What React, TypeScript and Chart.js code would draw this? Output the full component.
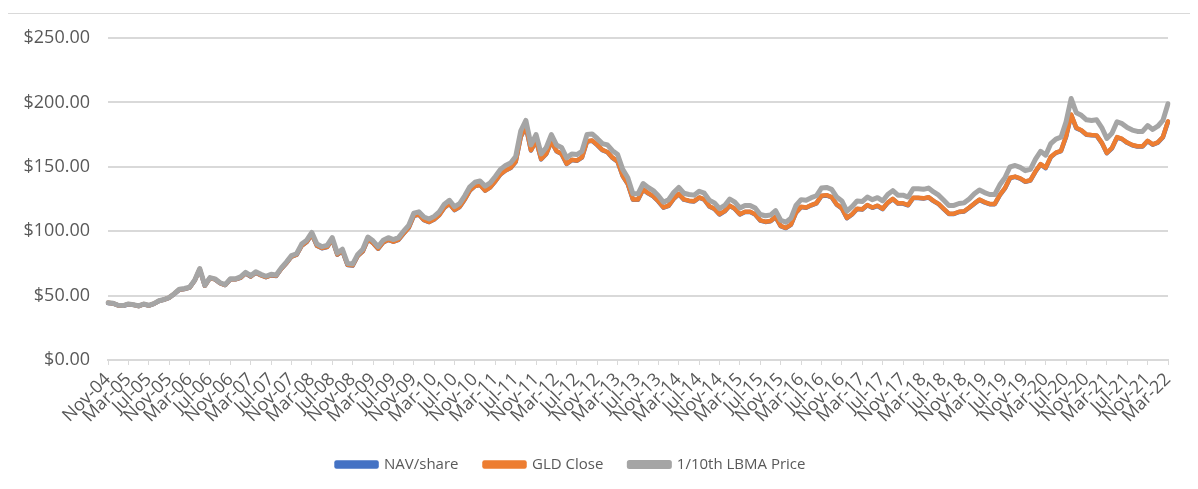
import React, { useEffect, useRef } from "react";
import { Chart, registerables } from "chart.js";

Chart.register(...registerables);

const MONTH_NAMES = ["Jan", "Feb", "Mar", "Apr", "May", "Jun", "Jul", "Aug", "Sep", "Oct", "Nov", "Dec"];

// x-axis tick labels (every 4th month)
const tickLabels = [
  "Nov-04", "Mar-05", "Jul-05", "Nov-05", "Mar-06", "Jul-06", "Nov-06", "Mar-07", "Jul-07", "Nov-07",
  "Mar-08", "Jul-08", "Nov-08", "Mar-09", "Jul-09", "Nov-09", "Mar-10", "Jul-10", "Nov-10", "Mar-11",
  "Jul-11", "Nov-11", "Mar-12", "Jul-12", "Nov-12", "Mar-13", "Jul-13", "Nov-13", "Mar-14", "Jul-14",
  "Nov-14", "Mar-15", "Jul-15", "Nov-15", "Mar-16", "Jul-16", "Nov-16", "Mar-17", "Jul-17", "Nov-17",
  "Mar-18", "Jul-18", "Nov-18", "Mar-19", "Jul-19", "Nov-19", "Mar-20", "Jul-20", "Nov-20", "Mar-21",
  "Jul-21", "Nov-21", "Mar-22",
];

// monthly values, Nov-04 .. Mar-22
const lbmaTenth = [
  44.5, 44.0,
  42.5, 42.3, 43.5, 42.9, 42.0, 43.5, 42.4, 43.8, 46.0, 47.0, 48.5, 51.5,
  55.0, 55.5, 56.5, 62.0, 71.0, 58.0, 64.0, 63.0, 60.0, 58.5, 63.0, 63.0,
  64.5, 68.0, 65.5, 68.5, 66.5, 65.0, 66.5, 66.0, 71.5, 76.0, 81.0, 82.5,
  90.0, 93.0, 99.0, 90.0, 88.0, 89.0, 95.0, 83.0, 86.0, 75.0, 74.5, 82.0,
  86.0, 95.5, 92.5, 88.0, 93.0, 95.0, 93.5, 95.0, 100.0, 104.5, 114.0, 115.0,
  111.0, 109.5, 111.5, 115.0, 121.0, 124.0, 119.0, 121.5, 127.5, 134.5, 138.0, 139.0,
  135.0, 137.5, 142.5, 148.0, 151.0, 153.0, 158.0, 178.0, 186.0, 167.0, 175.0, 160.0,
  165.0, 175.0, 167.0, 165.0, 157.0, 160.0, 159.5, 162.0, 175.0, 175.5, 172.0, 168.0,
  167.0, 162.5, 159.5, 148.0, 141.5, 129.0, 129.0, 137.0, 134.0, 131.5, 127.5, 122.5,
  124.5, 130.0, 134.0, 129.5, 128.5, 128.0, 131.0, 129.5, 124.0, 122.0, 117.5, 120.0,
  125.0, 122.5, 118.0, 120.0, 120.0, 118.0, 113.0, 112.0, 112.5, 116.0, 108.5, 107.0,
  110.0, 120.0, 124.5, 124.0, 126.0, 127.5, 133.5, 134.0, 132.5, 126.5, 123.5, 115.5,
  119.0, 123.5, 123.0, 126.5, 124.5, 126.0, 123.5, 128.5, 131.5, 128.0, 128.0, 126.5,
  133.0, 133.0, 132.5, 133.5, 130.5, 128.0, 124.0, 120.0, 120.0, 121.5, 122.0, 125.0,
  129.0, 132.0, 130.0, 128.5, 128.5, 136.0, 141.5, 150.0, 151.0, 149.5, 147.0, 148.0,
  156.0, 162.0, 159.0, 168.0, 171.5, 173.0, 185.0, 203.0, 192.0, 190.0, 186.5, 186.0,
  186.5, 180.5, 172.0, 176.0, 185.0, 183.5, 180.5, 178.5, 177.5, 177.5, 182.0, 179.0,
  181.5, 186.0, 199.0,
];

const gldClose = [
  44.4, 43.9,
  42.4, 42.2, 43.4, 42.8, 41.9, 43.4, 42.3, 43.7, 45.9, 46.9, 48.4, 51.4,
  54.7, 55.2, 56.2, 61.7, 70.6, 57.7, 63.7, 62.7, 59.7, 58.2, 62.7, 62.7,
  63.9, 67.4, 64.9, 67.9, 65.9, 64.4, 65.9, 65.4, 70.9, 75.3, 80.3, 81.8,
  88.8, 91.8, 97.7, 88.8, 86.9, 87.8, 93.8, 81.9, 84.9, 74.0, 73.5, 80.9,
  84.5, 93.9, 90.9, 86.5, 91.4, 93.4, 91.9, 93.4, 98.3, 102.7, 112.1, 113.0,
  108.7, 107.2, 109.2, 112.6, 118.5, 121.4, 116.5, 118.9, 124.8, 131.7, 135.1, 136.1,
  131.6, 134.1, 138.9, 144.3, 147.2, 149.2, 154.1, 173.6, 181.4, 162.8, 170.6, 156.0,
  160.2, 169.9, 162.2, 160.2, 152.4, 155.4, 154.9, 157.3, 169.9, 170.4, 167.0, 163.1,
  161.5, 157.1, 154.2, 143.1, 136.8, 124.7, 124.7, 132.5, 129.6, 127.2, 123.3, 118.5,
  119.9, 125.2, 129.0, 124.7, 123.7, 123.3, 126.2, 124.7, 119.4, 117.5, 113.2, 115.6,
  119.9, 117.5, 113.2, 115.1, 115.1, 113.2, 108.4, 107.4, 107.9, 111.2, 104.1, 102.6,
  105.1, 114.6, 118.9, 118.4, 120.3, 121.8, 127.5, 128.0, 126.5, 120.8, 117.9, 110.3,
  113.2, 117.4, 117.0, 120.3, 118.4, 119.8, 117.4, 122.2, 125.1, 121.7, 121.7, 120.3,
  126.0, 126.0, 125.5, 126.4, 123.6, 121.2, 117.4, 113.6, 113.6, 115.1, 115.5, 118.4,
  121.6, 124.5, 122.6, 121.2, 121.2, 128.2, 133.4, 141.5, 142.4, 141.0, 138.6, 139.6,
  146.5, 152.1, 149.3, 157.8, 161.0, 162.4, 173.7, 190.6, 180.3, 178.4, 175.1, 174.7,
  174.4, 168.8, 160.8, 164.6, 173.0, 171.6, 168.8, 166.9, 166.0, 166.0, 170.2, 167.4,
  169.0, 173.2, 185.3,
];

const navPerShare = [
  44.3, 43.9,
  42.4, 42.1, 43.3, 42.8, 41.9, 43.3, 42.3, 43.6, 45.8, 46.9, 48.3, 51.3,
  54.6, 55.1, 56.2, 61.6, 70.4, 57.6, 63.6, 62.6, 59.6, 58.2, 62.6, 62.6,
  63.8, 67.3, 64.8, 67.8, 65.8, 64.3, 65.8, 65.3, 70.8, 75.2, 80.2, 81.7,
  88.7, 91.7, 97.5, 88.7, 86.8, 87.7, 93.6, 81.8, 84.7, 73.8, 73.3, 80.8,
  84.4, 93.7, 90.8, 86.4, 91.3, 93.3, 91.8, 93.3, 98.2, 102.6, 111.9, 112.9,
  108.6, 107.1, 109.1, 112.5, 118.3, 121.3, 116.4, 118.8, 124.7, 131.5, 135.0, 136.0,
  131.5, 134.0, 138.8, 144.1, 147.1, 149.0, 153.9, 173.3, 181.0, 162.6, 170.4, 155.8,
  160.0, 169.7, 162.0, 160.0, 152.2, 155.2, 154.7, 157.1, 169.7, 170.2, 166.8, 162.9,
  161.3, 156.9, 154.0, 142.8, 136.6, 124.5, 124.5, 132.3, 129.4, 127.0, 123.1, 118.3,
  119.7, 125.0, 128.8, 124.5, 123.5, 123.1, 126.0, 124.5, 119.2, 117.3, 113.0, 115.4,
  119.7, 117.3, 113.0, 114.9, 114.9, 113.0, 108.2, 107.2, 107.7, 111.0, 103.9, 102.4,
  104.9, 114.4, 118.7, 118.2, 120.1, 121.6, 127.3, 127.8, 126.3, 120.6, 117.7, 110.1,
  113.0, 117.2, 116.8, 120.1, 118.2, 119.6, 117.2, 122.0, 124.9, 121.5, 121.5, 120.1,
  125.8, 125.8, 125.3, 126.2, 123.4, 121.0, 117.2, 113.4, 113.4, 114.9, 115.3, 118.2,
  121.4, 124.3, 122.4, 121.0, 121.0, 128.0, 133.2, 141.2, 142.2, 140.8, 138.4, 139.4,
  146.3, 151.9, 149.0, 157.5, 160.8, 162.2, 173.4, 190.2, 180.0, 178.2, 174.9, 174.5,
  174.2, 168.6, 160.6, 164.4, 172.8, 171.4, 168.6, 166.7, 165.8, 165.8, 170.0, 167.2,
  168.8, 173.0, 185.0,
];

function buildMonthLabels(count: number): string[] {
  const out: string[] = [];
  let m = 10; // November
  let y = 2004;
  for (let i = 0; i < count; i++) {
    out.push(MONTH_NAMES[m] + "-" + String(y % 100).padStart(2, "0"));
    m++;
    if (m === 12) {
      m = 0;
      y++;
    }
  }
  return out;
}

const TEXT = "#595959";
const GRID = "#d9d9d9";
const FONT = "'Open Sans', 'Liberation Sans', sans-serif";

const legendShift = {
  id: "legendShift",
  afterLayout(chart: any) {
    const lg = chart.legend;
    if (lg) {
      lg.left -= 17;
      lg.right -= 17;
    }
  },
};

export default function App() {
  const ref = useRef<HTMLCanvasElement | null>(null);

  useEffect(() => {
    if (!ref.current) return;
    const labels = buildMonthLabels(lbmaTenth.length);
    const chart = new Chart(ref.current, {
      type: "line",
      data: {
        labels,
        datasets: [
          {
            label: "NAV/share",
            data: navPerShare,
            borderColor: "#4472C4",
            backgroundColor: "#4472C4",
            borderWidth: 4.5,
            pointRadius: 0,
            order: 3,
            borderJoinStyle: "round",
            borderCapStyle: "round",
          },
          {
            label: "GLD Close",
            data: gldClose,
            borderColor: "#ED7D31",
            backgroundColor: "#ED7D31",
            borderWidth: 4.5,
            pointRadius: 0,
            order: 2,
            borderJoinStyle: "round",
            borderCapStyle: "round",
          },
          {
            label: "1/10th LBMA Price",
            data: lbmaTenth,
            borderColor: "#A5A5A5",
            backgroundColor: "#A5A5A5",
            borderWidth: 5,
            pointRadius: 0,
            order: 1,
            borderJoinStyle: "round",
            borderCapStyle: "round",
          },
        ],
      },
      options: {
        animation: false,
        responsive: false,
        maintainAspectRatio: false,
        layout: { padding: { top: 24, right: 28, left: 0, bottom: 8 } },
        plugins: {
          tooltip: { enabled: false },
          legend: {
            position: "bottom",
            labels: {
              color: TEXT,
              font: { family: FONT, size: 15 },
              boxWidth: 40,
              boxHeight: 4,
              padding: 26,
              sort: (a: any, b: any) => a.datasetIndex - b.datasetIndex,
            },
          },
        },
        scales: {
          x: {
            type: "category",
            offset: false,
            grid: {
              drawOnChartArea: false,
              drawTicks: true,
              tickLength: 5,
              color: GRID,
            },
            border: { color: GRID, width: 2 },
            ticks: {
              autoSkip: false,
              maxRotation: 45,
              minRotation: 45,
              color: TEXT,
              padding: 4,
              font: { family: FONT, size: 18 },
              callback: (_v: any, i: number) => (i % 4 === 0 ? tickLabels[i / 4] : null),
            },
            afterFit: (s: any) => {
              s.height = 71;
            },
          },
          y: {
            min: 0,
            max: 250,
            ticks: {
              stepSize: 50,
              color: TEXT,
              padding: 18,
              font: { family: FONT, size: 18 },
              callback: (v: any) => "$" + Number(v).toFixed(2),
            },
            grid: { color: GRID, lineWidth: 2, drawTicks: false },
            border: { display: false },
            afterFit: (s: any) => {
              s.width = 100;
              s.paddingTop = 0;
              s.paddingBottom = 0;
            },
          },
        },
      },
      plugins: [legendShift],
    } as any);
    return () => chart.destroy();
  }, []);

  return (
    <div
      style={{
        marginTop: 5,
        marginLeft: -1,
        width: 1190,
        height: 478,
        border: "1px solid #d9d9d9",
        boxSizing: "border-box",
        background: "#fff",
      }}
    >
      <canvas ref={ref} width={1188} height={476} style={{ display: "block" }} />
    </div>
  );
}
